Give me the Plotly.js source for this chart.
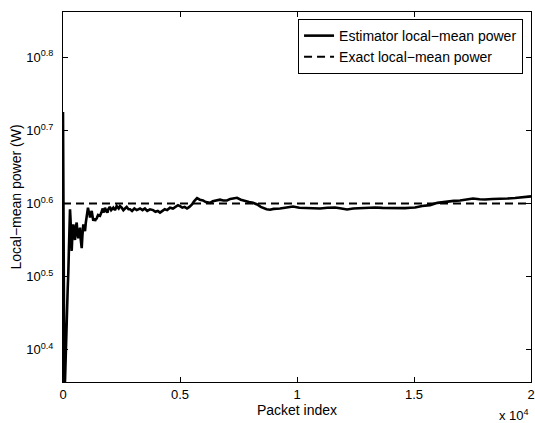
<!DOCTYPE html>
<html>
<head>
<meta charset="utf-8">
<script src="https://cdn.plot.ly/plotly-3.0.1.min.js"></script>
<style>html,body{margin:0;padding:0;background:#fff;}#chart{width:535px;height:423px;}</style>
</head>
<body>
<div id="chart"></div>
<script>
// Estimator local-mean power (W) vs packet index
const packetIndex = [0,15,30,60,90,110,130,150,175,200,226,255,280,299,320,345,372,400,440,470,513,550,585,620,654,690,727,760,799,830,868,900,940,975,1013,1040,1068,1100,1130,1154,1190,1227,1260,1295,1330,1368,1400,1440,1500,1581,1650,1700,1750,1795,1850,1900,1936,2000,2060,2150,2220,2295,2380,2436,2509,2580,2650,2722,2800,2864,2950,3050,3150,3291,3400,3500,3600,3718,3850,3950,4050,4146,4250,4350,4450,4573,4700,4800,4915,5000,5100,5200,5300,5400,5513,5600,5727,5850,5983,6100,6200,6283,6400,6550,6710,6850,7009,7150,7300,7436,7600,7778,7950,8120,8300,8450,8547,8700,8847,9000,9275,9500,9830,10100,10343,10650,10985,11300,11626,11900,12138,12400,12694,13000,13335,13650,13976,14300,14617,14850,15044,15350,15686,16000,16412,16700,16968,17250,17521,17800,18034,18350,18675,19000,19316,19650,20000];
const estimatorPower = [5.31,3.60,2.20,2.18,2.30,2.45,2.60,2.80,2.95,3.04,3.20,3.55,3.80,3.91,3.80,3.55,3.43,3.60,3.73,3.62,3.55,3.70,3.75,3.62,3.57,3.65,3.69,3.55,3.46,3.60,3.73,3.68,3.65,3.75,3.83,3.90,3.93,3.88,3.87,3.81,3.85,3.89,3.83,3.77,3.80,3.77,3.79,3.80,3.84,3.83,3.88,3.92,3.87,3.93,3.89,3.87,3.91,3.94,3.90,3.93,3.90,3.95,3.92,3.95,3.93,3.90,3.92,3.94,3.91,3.91,3.89,3.92,3.90,3.92,3.90,3.92,3.89,3.91,3.90,3.88,3.89,3.87,3.89,3.91,3.90,3.93,3.92,3.94,3.96,3.95,3.93,3.94,3.92,3.94,3.97,4.01,4.05,4.03,4.02,4.00,3.99,3.99,4.01,4.02,4.03,4.02,4.02,4.04,4.05,4.055,4.03,4.01,4.00,3.99,3.97,3.94,3.93,3.91,3.905,3.915,3.92,3.93,3.945,3.93,3.925,3.92,3.92,3.93,3.932,3.92,3.907,3.92,3.925,3.93,3.932,3.928,3.925,3.93,3.925,3.93,3.932,3.95,3.962,3.99,4.007,4.015,4.019,4.035,4.046,4.035,4.032,4.038,4.039,4.045,4.052,4.06,4.072];
const exactIndex = [0, 20000];
const exactPower = [3.981, 3.981];

const xTickVals = [0, 5000, 10000, 15000, 20000];
const xTickText = ['0', '0.5', '1', '1.5', '2'];
const yTickExp = [0.4, 0.5, 0.6, 0.7, 0.8];
const yTickVals = yTickExp.map(e => Math.pow(10, e));
const yTickText = yTickExp.map(e => '10<sup>' + e + '</sup>');

const FONT = 'Liberation Sans, Arial, Helvetica, sans-serif';

const traces = [
  {x: packetIndex, y: estimatorPower, type: 'scatter', mode: 'lines',
   name: 'Estimator local\u2212mean power',
   line: {color: '#000', width: 2.6}},
  {x: exactIndex, y: exactPower, type: 'scatter', mode: 'lines',
   name: 'Exact local\u2212mean power',
   line: {color: '#000', width: 2, dash: '8px,5px'}}
];

const axisCommon = {
  showline: true, linecolor: '#000', linewidth: 1, mirror: 'ticks',
  ticks: 'inside', ticklen: 5, tickwidth: 1, tickcolor: '#000',
  showgrid: false, zeroline: false,
  tickfont: {family: FONT, size: 13, color: '#000'}
};

const layout = {
  width: 535, height: 423,
  margin: {l: 63, r: 4, t: 12, b: 41},
  paper_bgcolor: '#fff', plot_bgcolor: '#fff',
  showlegend: true,
  font: {family: FONT, color: '#000'},
  xaxis: Object.assign({}, axisCommon, {
    range: [0, 20000], tickmode: 'array', tickvals: xTickVals, ticktext: xTickText,
    title: {text: 'Packet index', font: {family: FONT, size: 14, color: '#000'}, standoff: 2},
    automargin: false
  }),
  yaxis: Object.assign({}, axisCommon, {
    type: 'log', range: [0.356, 0.862], tickmode: 'array', tickvals: yTickVals, ticktext: yTickText,
    ticklabelstandoff: 6,
    title: {text: 'Local\u2212mean power (W)', font: {family: FONT, size: 14, color: '#000'}, standoff: 1},
    automargin: false
  }),
  legend: {
    x: 0.983, y: 0.981, xanchor: 'right', yanchor: 'top',
    bgcolor: '#fff', bordercolor: '#000', borderwidth: 1,
    font: {family: FONT, size: 14, color: '#000'},
    tracegroupgap: 0
  },
  annotations: [{
    text: 'x 10<sup>4</sup>', xref: 'paper', yref: 'paper', x: 1.0, y: -0.062,
    xanchor: 'right', yanchor: 'top', showarrow: false,
    font: {family: FONT, size: 13, color: '#000'}
  }]
};

Plotly.newPlot('chart', traces, layout, {displayModeBar: false, staticPlot: true});
</script>
</body>
</html>
